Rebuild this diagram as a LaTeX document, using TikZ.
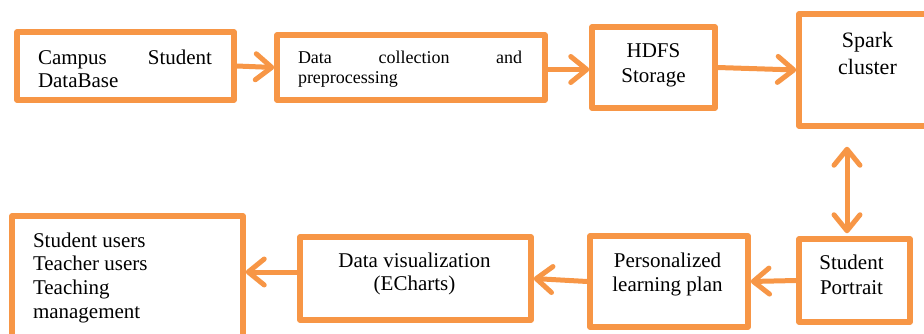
\documentclass[tikz,border=0pt]{standalone}
\usepackage{fontspec}
\setmainfont{Liberation Serif}
\usetikzlibrary{arrows.meta}
\definecolor{boxorange}{HTML}{F79646}
\begin{document}
\begin{tikzpicture}[x=1pt,y=-1pt,
  box/.style={draw=boxorange, line width=5.5pt, line join=round, inner sep=0pt},
  barb/.tip={Straight Barb[length=16pt,width=26pt,round]},
  flow/.style={draw=boxorange, line width=5pt, line cap=round, line join=round, -barb},
  both/.style={draw=boxorange, line width=5pt, line cap=round, line join=round, barb-barb},
  lbl/.style={inner sep=0pt, outer sep=0pt}]
\useasboundingbox (0,0) rectangle (924,333);
\clip (0,0) rectangle (924,333);

% boxes (centre, width, height of the stroked outline)
\node[box, minimum width=217pt, minimum height=68pt]  (B1) at (125.5,66)  {};
\node[box, minimum width=268pt, minimum height=65pt]  (B2) at (411,67.5)  {};
\node[box, minimum width=123pt, minimum height=81pt]  (B3) at (653.5,67.5) {};
\node[box, minimum width=136pt, minimum height=112pt] (B4) at (867,70)    {};
\node[box, minimum width=111pt, minimum height=83pt]  (B5) at (854.5,280.5) {};
\node[box, minimum width=158pt, minimum height=91pt]  (B6) at (669,281.5) {};
\node[box, minimum width=231pt, minimum height=83pt]  (B7) at (415.5,278.5) {};
\node[box, minimum width=231pt, minimum height=129pt] (B8) at (127.5,280.5) {};

% box texts
\node[lbl, anchor=base west] (t1) at (38,64)
  {\parbox[t]{174pt}{\fontsize{21}{23}\selectfont Campus\hfill Student\\DataBase}};
\node[lbl, anchor=base west] (t2) at (298,63)
  {\parbox[t]{224pt}{\fontsize{18}{20.5}\selectfont Data\hfill collection\hfill and\\preprocessing}};
\node[lbl, anchor=base] (t3) at (653.5,57)
  {\parbox[t]{120pt}{\centering\fontsize{21}{25}\selectfont HDFS\\Storage}};
\node[lbl, anchor=base] (t4) at (867.5,47)
  {\parbox[t]{130pt}{\centering\fontsize{22}{27}\selectfont Spark\\cluster}};
\node[lbl, anchor=base] (t5) at (851.5,269)
  {\parbox[t]{110pt}{\centering\fontsize{21}{25}\selectfont Student\\Portrait}};
\node[lbl, anchor=base] (t6) at (667.5,267)
  {\parbox[t]{150pt}{\centering\fontsize{21}{24}\selectfont Personalized\\learning plan}};
\node[lbl, anchor=base] (t7) at (414.5,267)
  {\parbox[t]{220pt}{\centering\fontsize{21}{23}\selectfont Data visualization\\(ECharts)}};
\node[lbl, anchor=base west] (t8) at (33,247)
  {\parbox[t]{200pt}{\fontsize{21}{23.7}\selectfont Student users\\Teacher users\\Teaching\\management}};

% connectors
\coordinate (dx) at (847,0);
\draw[flow] (B1.east) -- (B2.west);
\draw[flow] ([yshift=-2pt]B2.east) -- ([yshift=-2pt]B3.west);
\draw[flow] (B3.east) -- (B4.west);
\draw[both, shorten <=18pt, shorten >=3pt] (B4.south -| dx) -- (B5.north -| dx);
\draw[flow] (B5.west) -- (B6.east);
\draw[flow] (B6.west) -- (B7.east);
\draw[flow] ([yshift=6.5pt]B7.west) -- ([yshift=8.5pt]B8.east);
\end{tikzpicture}
\end{document}
